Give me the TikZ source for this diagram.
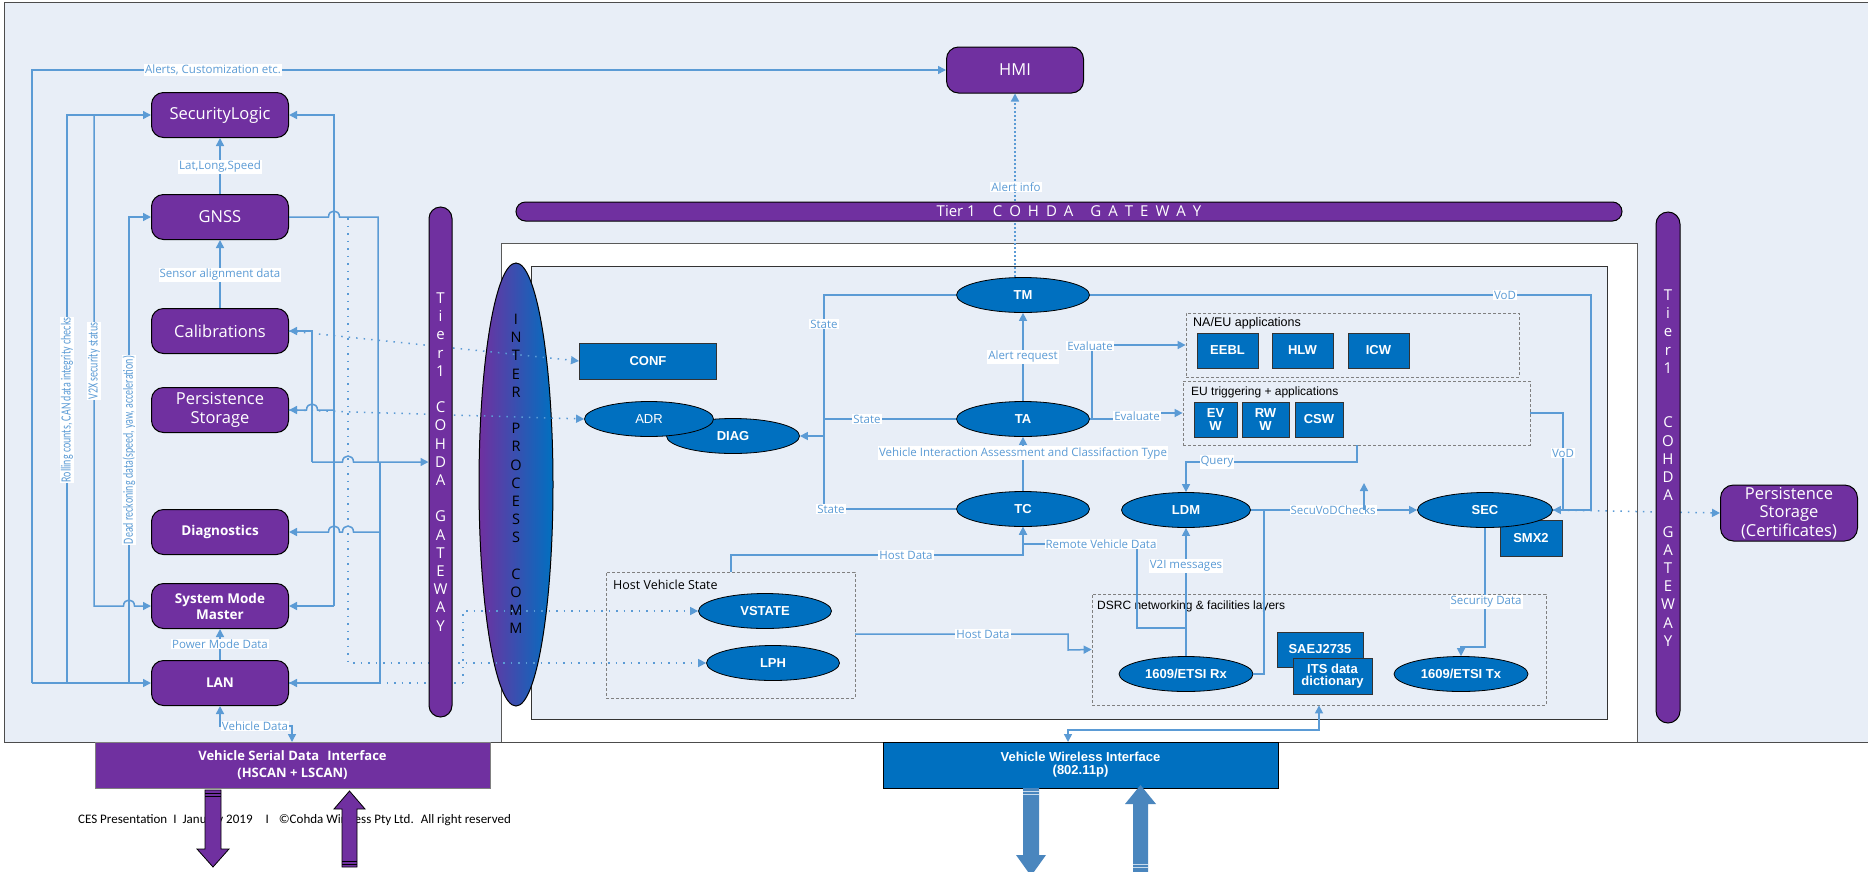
\documentclass[tikz,border=0pt]{standalone}
\usepackage{fontspec}
\setmainfont{Open Sans}
\newfontfamily\arialf{Liberation Sans}
\newfontfamily\calf{Carlito}
\usetikzlibrary{arrows.meta,shapes.geometric}
\definecolor{purp}{HTML}{7030A0}
\definecolor{nblue}{HTML}{0070C0}
\definecolor{lblue}{HTML}{5B9BD5}
\definecolor{bgc}{HTML}{E8EEF7}
\definecolor{wblue}{HTML}{4A86BE}
\newcommand\lsp{\hspace{7pt}}
\newcommand\tallt[1]{\scalebox{1}[1.4]{#1}}
\begin{document}
\begin{tikzpicture}[x=1pt,y=-1pt,
  pbox/.style={draw=black, line width=1pt, fill=purp, rounded corners=12pt, minimum width=137pt, minimum height=45pt, text=white, font=\fontsize{16.5}{18.5}\selectfont, align=center, inner sep=0pt},
  pboxb/.style={pbox, font=\fontsize{13.5}{16}\selectfont\bfseries},
  bell/.style={ellipse, draw=black, line width=0.8pt, fill=nblue, text=white, font=\arialf\bfseries\fontsize{13}{14}\selectfont, minimum width=133pt, minimum height=35pt, inner sep=0pt},
  bsq/.style={rectangle, draw=black!80, line width=1pt, fill=nblue, text=white, font=\arialf\bfseries\fontsize{13}{12.5}\selectfont, align=center, inner sep=0pt},
  conn/.style={draw=lblue, line width=1.5pt},
  dotc/.style={draw=lblue, line width=1.5pt, dash pattern=on 1.5pt off 6pt},
  lab/.style={fill=white, text=lblue, font=\fontsize{11.5}{13}\selectfont, inner sep=1pt},
  rlab/.style={fill=white, text=lblue, font=\calf\fontsize{10}{12}\selectfont, inner sep=1pt, rotate=90},
  dbox/.style={draw=gray, line width=0.8pt, dash pattern=on 3pt off 2pt},
  pill/.style={draw=black, line width=1pt, fill=purp, inner sep=0pt},
  >={Triangle[length=8pt,width=8pt]}]
\useasboundingbox (0,0) rectangle (1868,871);
\fill[white] (0,0) rectangle (1868,871);
% background
\filldraw[fill=bgc, draw=gray!60!black, line width=1pt] (4,2) rectangle (1875,742);
% white frame and inner box
\fill[white] (501,243) rectangle (1637,742);
\draw[gray!70!black, line width=1pt] (501,742) -- (501,243) -- (1637,243) -- (1637,742);
\filldraw[fill=bgc, draw=black!80, line width=1pt] (531,266) rectangle (1607,719);

% footer
\node[anchor=west, font=\calf\fontsize{13}{15}\selectfont, inner sep=0pt] (foot) at (78,820) {CES Presentation\hspace{6pt}I\hspace{6pt}January 2019\hspace{13pt}I\hspace{10pt}©Cohda Wireless Pty Ltd.\hspace{7pt}All right reserved};

% left panel boxes
\node[pbox] (SL) at (220,115) {SecurityLogic};
\node[pbox] (GNSS) at (220,217) {GNSS};
\node[pbox] (CAL) at (220,331) {Calibrations};
\node[pbox] (PS) at (220,410) {Persistence\\Storage};
\node[pboxb] (DIAGN) at (220,532) {Diagnostics};
\node[pboxb] (SMM) at (220,606) {System Mode\\Master};
\node[pboxb] (LAN) at (220,683) {LAN};
\node[pbox, minimum height=46pt] (HMI) at (1015,70) {HMI};
\node[pbox, minimum height=56pt, rounded corners=13pt] (PSC) at (1789,513) {Persistence\\Storage\\(Certificates)};

% interface boxes
\node[rectangle, draw=gray, line width=1pt, fill=purp, text=white, font=\bfseries\fontsize{13}{16.5}\selectfont, align=center, minimum width=395pt, minimum height=46pt, inner sep=0pt] (SER) at (292.5,765) {Vehicle Serial Data\hspace{8pt}Interface\\(HSCAN + LSCAN)};
\node[bsq, draw=black, minimum width=395pt, minimum height=46pt, font=\arialf\bfseries\fontsize{13}{13}\selectfont] (WL) at (1080.5,765) {Vehicle Wireless Interface\\(802.11p)};

% dashed group boxes
\node[dbox, minimum width=249pt, minimum height=126pt, inner sep=0pt] (HVS) at (730.5,635) {};
\node[dbox, minimum width=454pt, minimum height=111pt, inner sep=0pt] (DSRC) at (1319,649.5) {};
\node[dbox, minimum width=333pt, minimum height=64pt, inner sep=0pt] (NAEU) at (1352.5,345) {};
\node[dbox, minimum width=347pt, minimum height=64pt, inner sep=0pt] (EU) at (1356.5,413) {};
\node[anchor=west, font=\fontsize{12.5}{14}\selectfont, inner sep=0pt] (tHVS) at (613,585) {Host Vehicle State};
\node[anchor=west, font=\arialf\fontsize{12.5}{14}\selectfont, inner sep=0pt] (tNA) at (1193,323) {NA/EU applications};
\node[anchor=west, font=\arialf\fontsize{12}{14}\selectfont, inner sep=0pt] (tEU) at (1191,392) {EU triggering + applications};
\node[anchor=west, font=\arialf\fontsize{12}{14}\selectfont, inner sep=0pt] (tDS) at (1097,606) {DSRC networking \& facilities layers};

% blue nodes
\node[bsq, minimum width=137pt, minimum height=36pt] (CONF) at (648,361) {CONF};
\node[bell] (TM) at (1023,295) {TM};
\node[bell] (TA) at (1023,419) {TA};
\node[bell] (TC) at (1023,509) {TC};
\node[bell] (DIAG) at (733,436) {DIAG};
\node[bell, minimum width=129pt, font=\arialf\fontsize{13}{14}\selectfont] (ADR) at (649,419) {ADR};
\node[bell] (VSTATE) at (765,611) {VSTATE};
\node[bell] (LPH) at (773,663) {LPH};
\node[bell, minimum width=129pt] (LDM) at (1186,510) {LDM};
\node[bell, minimum width=134pt] (RX) at (1186,674) {1609/ETSI Rx};
\node[bell, minimum width=134pt] (TX) at (1461,674) {1609/ETSI Tx};
\node[bsq, minimum width=62pt, minimum height=36pt] (SMX) at (1531,538) {SMX2};
\node[bell, minimum width=135pt] (SEC) at (1485,510) {SEC};
\node[bsq, minimum width=86pt, minimum height=35pt] (SAE) at (1320,649.5) {SAEJ2735};
\node[bsq, minimum width=79pt, minimum height=36pt] (ITS) at (1332.5,676) {ITS data\\dictionary};
\node[bsq, minimum width=61pt, minimum height=35pt] (EEBL) at (1227.5,350.5) {EEBL};
\node[bsq, minimum width=61pt, minimum height=35pt] (HLW) at (1302.5,350.5) {HLW};
\node[bsq, minimum width=61pt, minimum height=35pt] (ICW) at (1378.5,350.5) {ICW};
\node[bsq, minimum width=43pt, minimum height=35pt] (EVW) at (1215.5,419.5) {EV\\W};
\node[bsq, minimum width=47pt, minimum height=35pt] (RWW) at (1265.5,419.5) {RW\\W};
\node[bsq, minimum width=48pt, minimum height=35pt] (CSW) at (1319,419.5) {CSW};

% inter process comm
\node[ellipse, draw=black, line width=1pt, left color=purp, right color=nblue, minimum width=74pt, minimum height=443pt, inner sep=0pt] (IPC) at (516,484.5) {};
\node[text=black, font=\fontsize{14.5}{18.2}\selectfont, align=center, inner sep=0pt] (IPCt) at (516,474) {I\\N\\T\\E\\R\\~\\P\\R\\O\\C\\E\\S\\S\\~\\C\\O\\M\\M};

% dotted connectors
\draw[dotc,->] (348,218) -- (348,663) -- (LPH.west);
\draw[dotc,->] (CAL.east) -- (CONF.west);
\draw[dotc,->] (PS.east) -- (ADR.west);
\draw[dotc] (LAN.east) -- (463,683);
\draw[dotc,->] (463,683) -- (463,611) -- (VSTATE.west);
\draw[dotc,->] (SEC.east) -- (PSC.west);
\draw[conn, dash pattern=on 2pt off 2pt, ->] (TM.north -| HMI.south) -- (HMI.south);
\node[lab] (lAi) at (1016,187) {Alert info};

% gateways
\node[pill, rounded corners=11.5pt, minimum width=23pt, minimum height=510pt] (GWL) at (440.5,462) {};
\node[text=white, font=\fontsize{15}{18.2}\selectfont, align=center, inner sep=0pt] (GWLt) at (440.5,462) {T\\i\\e\\r\\1\\~\\C\\O\\H\\D\\A\\~\\G\\A\\T\\E\\W\\A\\Y};
\node[pill, rounded corners=12pt, minimum width=24pt, minimum height=511pt] (GWR) at (1668,467.5) {};
\node[text=white, font=\fontsize{15}{18.2}\selectfont, align=center, inner sep=0pt] (GWRt) at (1668,468) {T\\i\\e\\r\\1\\~\\~\\C\\O\\H\\D\\A\\~\\G\\A\\T\\E\\W\\A\\Y};
\node[pill, rounded corners=9.5pt, minimum width=1106pt, minimum height=19pt] (GWT) at (1069,211.5) {};
\node[text=white, font=\fontsize{15}{18}\selectfont, inner sep=0pt] (GWTt) at (1069,211.5) {Tier 1\hspace{17pt}C\lsp O\lsp H\lsp D\lsp A\hspace{17pt}G\lsp A\lsp T\lsp E\lsp W\lsp A\lsp Y};

% left panel connectors
\draw[conn,->] (32,683) -- (LAN.west);
\draw[conn,->] (32,683) -- (32,70) -- (HMI.west);
\draw[conn,->] (67,683) -- (67,115) -- (SL.west);
\draw[conn,->] (94,115) -- (94,606) -- (123.5,606) .. controls (123.5,598) and (134.5,598) .. (134.5,606) -- (SMM.west);
\draw[conn,->] (129,683) -- (129,217) -- (GNSS.west);
\draw[conn,->] (334,606) -- (334,115) -- (SL.east);
\draw[conn,->] (334,606) -- (SMM.east);
\draw[conn,->] (334,410) -- (317.5,410) .. controls (317.5,402) and (306.5,402) .. (306.5,410) -- (PS.east);
\draw[conn,->] (312,462) -- (312,331) -- (CAL.east);
\draw[conn,->] (312,462) -- (342.5,462) .. controls (342.5,454) and (353.5,454) .. (353.5,462) -- (GWL.west);
\draw[conn] (GNSS.east) -- (328.5,217) .. controls (328.5,209) and (339.5,209) .. (339.5,217) -- (378,217) -- (378,462);
\draw[conn,->] (380,462) -- (380,683) -- (LAN.east);
\draw[conn,->] (380,532) -- (353.5,532) .. controls (353.5,524) and (342.5,524) .. (342.5,532) -- (339.5,532) .. controls (339.5,524) and (328.5,524) .. (328.5,532) -- (DIAGN.east);
\draw[conn,->] (GNSS.north) -- (SL.south);
\draw[conn,->] (CAL.north) -- (GNSS.south);
\draw[conn,->] (LAN.north) -- (SMM.south);
\coordinate (serin) at (292,742);
\draw[conn,<->] (LAN.south) -- (220,726) -- (292,726) -- (serin);

\node[lab] (lAl) at (213,70) {Alerts, Customization etc.};
\node[lab] (lLat) at (220,167) {Lat,Long,Speed};
\node[lab] (lSen) at (220,275) {Sensor alignment data};
\node[lab] (lPow) at (220,644) {Power Mode Data};
\node[lab] (lVeh) at (255,726) {Vehicle Data};
\node[rlab] (lRoll) at (67,400) {\tallt{Rolling counts, CAN data integrity checks}};
\node[rlab] (lV2X) at (94,361) {\tallt{V2X security status}};
\node[rlab] (lDead) at (129,450) {\tallt{Dead reckoning data(speed, yaw, acceleration)}};

% inner connectors
\draw[conn,->] (TA.north) -- (TM.south);
\draw[conn] (TM.west) -- (824,295) -- (824,509) -- (TC.west);
\draw[conn] (TA.west) -- (824,419);
\draw[conn,->] (824,436) -- (DIAG.east);
\draw[conn,->] (TC.north) -- (TA.south);
\draw[conn,->] (1092,419) |- (NAEU.west);
\draw[conn,->] (TA.east) -- (1137,419) -- (1137,413) -- (EU.west);
\draw[conn,->] (731,572) -- (731,555) -- (1023,555) -- (TC.south);
\draw[conn,->] (1186,628) -- (1137,628) -- (1137,544) -- (1023,544) -- (TC.south);
\draw[conn,->] (RX.north) -- (LDM.south);
\draw[conn,->] (855,634) -- (1068,634) -- (1068,650) -- (DSRC.west);
\draw[conn,->] (1357,445) -- (1357,462) -- (1186,462) -- (LDM.north);
\draw[conn,->] (LDM.east) -- (SEC.west);
\draw[conn] (RX.east) -- (1264,674) -- (1264,510);
\draw[conn,->] (SEC.south) -- (1485,647) -| (TX.north);
\draw[conn,->] (TM.east) -- (1591,295) -- (1591,510) -- (SEC.east);
\draw[conn] (EU.east) -- (1563,413) -- (1563,510);
\coordinate (wlin) at (1068,742);
\draw[conn,<->] (DSRC.south) -- (1319,730) -- (1068,730) -- (wlin);

\node[lab] (lSt1) at (824,324) {State};
\node[lab] (lSt2) at (867,419) {State};
\node[lab] (lSt3) at (831,509) {State};
\node[lab] (lAr) at (1023,357) {Alert request};
\node[lab] (lEv1) at (1090,346) {Evaluate};
\node[lab] (lEv2) at (1137,416) {Evaluate};
\node[lab] (lVia) at (1023,453) {Vehicle Interaction Assessment and Classifaction Type};
\node[lab] (lHd1) at (906,555) {Host Data};
\node[lab] (lRvd) at (1101,544) {Remote Vehicle Data};
\node[lab] (lV2I) at (1186,566) {V2I messages};
\node[lab] (lHd2) at (983,634) {Host Data};
\node[lab] (lQ) at (1217,462) {Query};
\node[lab] (lSec) at (1333,510) {SecuVoDChecks};
\node[lab] (lSD) at (1486,602) {Security Data};
\node[lab] (lVoD1) at (1505,295) {VoD};
\node[lab] (lVoD2) at (1563,453) {VoD};
\coordinate (upend) at (1364,483);
\draw[conn,->] (1364,510) -- (upend);

% block arrows
\filldraw[fill=purp, draw=black, line width=0.8pt] (205,790) -- (221,790) -- (221,849) -- (229,849) -- (213,867) -- (197,849) -- (205,849) -- cycle;
\draw[black, line width=0.6pt] (205,793) -- (221,793) (205,796) -- (221,796);
\filldraw[fill=purp, draw=black, line width=0.8pt] (349.5,791) -- (365,809) -- (357,809) -- (357,867) -- (342,867) -- (342,809) -- (334,809) -- cycle;
\draw[black, line width=0.6pt] (342,861) -- (357,861) (342,864) -- (357,864);
\fill[wblue] (1023,788) -- (1039,788) -- (1039,855) -- (1046,855) -- (1031,876) -- (1016,855) -- (1023,855) -- cycle;
\draw[white!70!wblue, line width=0.6pt] (1023,791) -- (1039,791) (1023,794) -- (1039,794);
\fill[wblue] (1140.5,785) -- (1156,804) -- (1148,804) -- (1148,880) -- (1133,880) -- (1133,804) -- (1125,804) -- cycle;
\draw[white!70!wblue, line width=0.6pt] (1133,864) -- (1148,864) (1133,867) -- (1148,867);
\end{tikzpicture}
\end{document}
